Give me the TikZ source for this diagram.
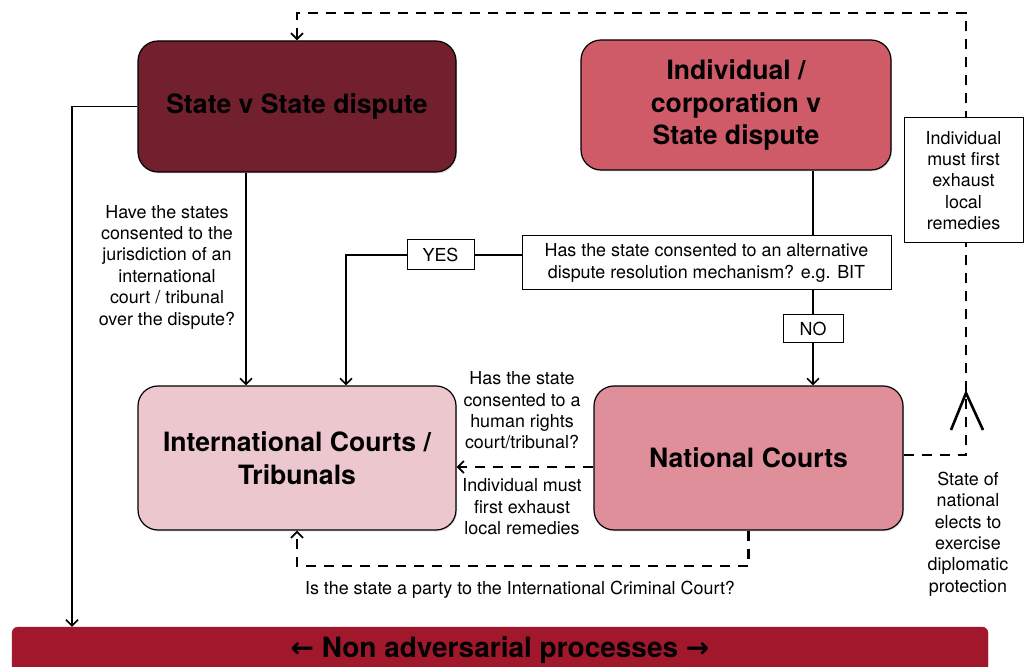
\documentclass[tikz,border=0pt]{standalone}
\usepackage{fontspec}
\setmainfont{TeX Gyre Heros}
\newfontfamily\arrowfont{DejaVu Sans}
\usetikzlibrary{calc}
\usetikzlibrary{positioning}
\usetikzlibrary{arrows.meta}
\usetikzlibrary{shadows}
\definecolor{statered}{RGB}{114,32,46}
\definecolor{personred}{RGB}{207,90,104}
\definecolor{intlpink}{RGB}{236,200,206}
\definecolor{natlpink}{RGB}{222,143,153}
\definecolor{barred}{RGB}{161,24,44}
\newcommand*\smalltext{\fontsize{17.9}{21.4}\selectfont}
\newcommand*\bigtext{\fontsize{26.6}{32.5}\selectfont\bfseries}

\begin{document}
\begin{tikzpicture}
    [%
        x=1pt,y=1pt,%
        court/.style={%
            draw,%
            rounded corners=20pt,%
            line width=1.2pt,%
            align=center,%
            font=\bigtext,%
            minimum width=318pt,%
            minimum height=131pt,%
            drop shadow={opacity=0.25,shadow xshift=1pt,shadow yshift=-1.5pt}%
        },%
        question/.style={%
            draw,%
            fill=white,%
            line width=1pt,%
            align=center,%
            font=\smalltext,%
            inner sep=2pt%
        },%
        note/.style={%
            align=center,%
            font=\smalltext%
        },%
        link/.style={%
            line width=1.8pt,%
            -{Straight Barb[length=6pt,width=12pt,line width=1.6pt]}%
        },%
        plain link/.style={%
            line width=1.8pt%
        },%
        dash link/.style={%
            line width=2.4pt,%
            dash pattern=on 10pt off 8pt,%
            -{Straight Barb[length=6pt,width=12pt,line width=1.8pt]}%
        }%
    ]%
    \useasboundingbox (0,0) rectangle (1024,666);
%
    % the four courts and disputes
    \node[court,fill=statered] (state) at (297,559.5) {State v State dispute};
    \node[court,fill=personred,minimum width=310pt,minimum height=130pt] (person) at (736,561)
        {Individual /\\corporation v\\State dispute};
    \node[court,fill=intlpink,minimum height=144pt] (intl) at (297,208)
        {International Courts /\\Tribunals};
    \node[court,fill=natlpink,minimum width=309pt,minimum height=144pt] (natl) at (748.5,208)
        {National Courts};
    \node[draw=barred,fill=barred,rounded corners=6pt,minimum width=976pt,minimum height=46pt,
        font=\fontsize{28}{30}\selectfont\bfseries] (bar) at (500,16)
        {{\arrowfont\bfseries ←} Non adversarial processes {\arrowfont\bfseries →}};
%
    % questions on the way
    \node[question,minimum width=369pt,minimum height=54pt] (adr) at (706.5,403)
        {Has the state consented to an alternative\\dispute resolution mechanism? e.g. BIT};
    \node[question,minimum width=67pt,minimum height=30pt] (yes) at (440.5,411) {YES};
    \node[question,minimum width=60pt,minimum height=28pt] (no) at (813,337) {NO};
%
    % state v state
    \coordinate (leftrail) at (72,0);
    \draw[link] (state.west) -| (leftrail |- bar.north);
    \draw[link] ([xshift=-51pt]state.south) -- ([xshift=-51pt]intl.north);
    \node[note] (consent) at (167,399)
        {Have the states\\consented to the\\jurisdiction of an\\international\\court / tribunal\\over the dispute?};
%
    % individual v state
    \draw[plain link] (person.south -| no) -- (adr.north -| no);
    \draw[plain link] (adr.south -| no) -- (no.north);
    \draw[link] (no.south) -- (natl.north -| no);
    \draw[plain link] (adr.west |- yes) -- (yes.east);
    \draw[link] (yes.west) -| ([xshift=49pt]intl.north);
%
    % from the national courts
    \draw[dash link] ([yshift=-9pt]natl.west) -- ([yshift=-9pt]intl.east);
    \node[note] (rights) at (522,255.5)
        {Has the state\\consented to a\\human rights\\court/tribunal?};
    \node[note] (local) at (522,159)
        {Individual must\\first exhaust\\local remedies};
%
    \coordinate (iccrow) at (0,100);
    \draw[dash link] (natl.south) -- (natl.south |- iccrow) -| (intl.south);
    \node[note] (icc) at (520,76) {Is the state a party to the International Criminal Court?};
%
    \coordinate (rightrail) at (966,653);
    \draw[dash link] ([yshift=3pt]natl.east) -| (rightrail) -| (state.north);
    \node[question,minimum width=119pt,minimum height=125pt] (exhaust) at (963.5,485.5)
        {Individual\\must first\\exhaust\\local\\remedies};
    \coordinate (tip) at (rightrail |- 0,273);
    \draw[line width=2.6pt] ($(tip)+(-15,-37)$) -- (tip) -- ($(tip)+(17,-37)$);
    \node[note] (diplo) at (968,132)
        {State of\\national\\elects to\\exercise\\diplomatic\\protection};
\end{tikzpicture}
\end{document}
